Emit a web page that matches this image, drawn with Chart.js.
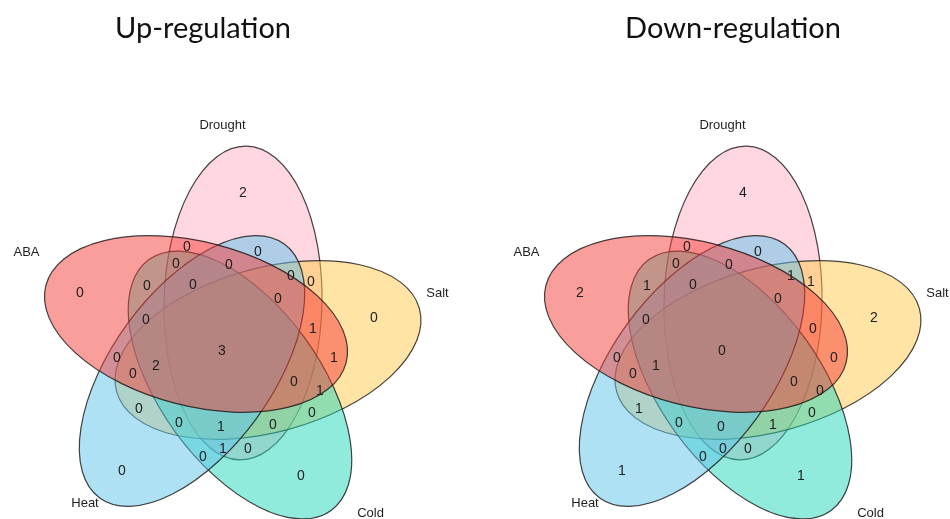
<!DOCTYPE html>
<html>
<head>
<meta charset="utf-8">
<script src="https://cdn.jsdelivr.net/npm/chart.js@4/dist/chart.umd.min.js"></script>
<style>
  html, body { margin: 0; padding: 0; background: #ffffff; }
  #wrap { width: 950px; height: 519px; }
</style>
</head>
<body>
<div id="wrap"><canvas id="venn" width="950" height="519"></canvas></div>
<script>
// ---- data ----------------------------------------------------------------
const setNames = ['Drought', 'Salt', 'Cold', 'Heat', 'ABA'];
const panelTitles = ['Up-regulation', 'Down-regulation'];
// gene counts for the 31 regions of the five-set diagram, read top to bottom
const upCounts = [2, 0, 0, 0, 0, 0, 0, 0, 0, 0, 0, 0, 0, 1, 3, 1,
                  0, 2, 0, 0, 1, 0, 0, 0, 1, 0, 1, 0, 0, 0, 0];
const downCounts = [4, 0, 0, 0, 0, 2, 1, 0, 1, 1, 0, 2, 0, 0, 0, 0,
                    0, 1, 0, 0, 0, 1, 0, 0, 0, 1, 0, 0, 0, 1, 1];
const panelCounts = [upCounts, downCounts];

// ---- style ---------------------------------------------------------------
const setColors = ['rgb(255,175,195)', 'rgb(255,201,75)', 'rgb(35,215,185)',
                   'rgb(95,195,235)', 'rgb(245,62,55)'];
const fillAlpha = 0.5;
const outline = 'rgba(25,20,20,0.8)';
const textColor = '#1e1e1e';
const countFont = '14px "Liberation Sans", Arial, sans-serif';
const labelFont = '13px "Liberation Sans", Arial, sans-serif';
const titleFamily = 'Lato, "Open Sans", sans-serif';

// ---- layout (plot units, relative to each diagram's centre) --------------
const panelOrigins = [[228, 347], [728, 347]];
// ellipse per set: centre offset, semi-major (rx), semi-minor (ry), major-axis angle in degrees
const ellipseShapes = [
  { cx: 15,  cy: -44, rx: 157, ry: 79, rot: 91.3 },
  { cx: 40,  cy: 3,   rx: 157, ry: 82, rot: -15.3 },
  { cx: 12,  cy: 38,  rx: 155, ry: 80, rot: 54 },
  { cx: -36, cy: 24,  rx: 157, ry: 80, rot: -54 },
  { cx: -32, cy: -23, rx: 155, ry: 82, rot: 14.4 }
];
// anchor of each region's count, same order as the count arrays
const regionSpots = [
  [15, -154], [-41, -100], [30, -95], [-52, -83], [1, -82],
  [-148, -54], [-81, -61], [-35, -62], [63, -71], [83, -65],
  [50, -48], [146, -29], [-82, -27], [85, -18], [-6, 4],
  [106, 11], [-111, 11], [-72, 19], [-95, 27], [66, 35],
  [92, 44], [-89, 62], [84, 66], [-49, 76], [-7, 80],
  [45, 78], [-5, 102], [20, 102], [-25, 110], [-106, 124],
  [73, 129]
];
const setLabelSpots = [[-5.5, -221.5], [209.5, -53.5], [142.5, 166], [-143, 156], [-201.5, -94.5]];
const titleSpots = [[-25, -309], [5, -309]];
const titleWidth = 176;

// ---- drawing -------------------------------------------------------------
const vennPlugin = {
  id: 'vennShapes',
  beforeDatasetsDraw(chart) {
    const { ctx, scales: { x, y } } = chart;
    const kx = x.getPixelForValue(1) - x.getPixelForValue(0);
    const ky = Math.abs(y.getPixelForValue(1) - y.getPixelForValue(0));
    panelOrigins.forEach(([ox, oy]) => {
      ellipseShapes.forEach((e, i) => {
        ctx.save();
        ctx.beginPath();
        ctx.ellipse(x.getPixelForValue(ox + e.cx), y.getPixelForValue(oy + e.cy),
                    e.rx * kx, e.ry * ky, e.rot * Math.PI / 180, 0, Math.PI * 2);
        ctx.globalAlpha = fillAlpha;
        ctx.fillStyle = setColors[i];
        ctx.fill();
        ctx.globalAlpha = 1;
        ctx.lineWidth = 1.2;
        ctx.strokeStyle = outline;
        ctx.stroke();
        ctx.restore();
      });
    });
  },
  afterDatasetsDraw(chart) {
    const { ctx, scales: { x, y } } = chart;
    ctx.save();
    ctx.fillStyle = textColor;
    ctx.textAlign = 'center';
    ctx.textBaseline = 'middle';
    // region counts sit on the (invisible) scatter points
    ctx.font = countFont;
    chart.data.datasets.forEach((ds, di) => {
      chart.getDatasetMeta(di).data.forEach((pt, i) => {
        ctx.fillText(String(ds.counts[i]), pt.x, pt.y);
      });
    });
    // set names and panel titles
    panelOrigins.forEach(([ox, oy], p) => {
      ctx.font = labelFont;
      setNames.forEach((name, i) => {
        const [lx, ly] = setLabelSpots[i];
        ctx.fillText(name, x.getPixelForValue(ox + lx), y.getPixelForValue(oy + ly));
      });
      ctx.font = '28px ' + titleFamily;
      const size = 28 * titleWidth / ctx.measureText(panelTitles[0]).width;
      ctx.font = size.toFixed(2) + 'px ' + titleFamily;
      ctx.textBaseline = 'alphabetic';
      const [tx, ty] = titleSpots[p];
      ctx.fillStyle = '#111';
      ctx.fillText(panelTitles[p], x.getPixelForValue(ox + tx), y.getPixelForValue(oy + ty));
      ctx.fillStyle = textColor;
      ctx.textBaseline = 'middle';
    });
    ctx.restore();
  }
};

const datasets = panelOrigins.map(([ox, oy], p) => ({
  label: panelTitles[p],
  counts: panelCounts[p],
  data: regionSpots.map(([rx, ry]) => ({ x: ox + rx, y: oy + ry })),
  pointRadius: 0,
  pointHoverRadius: 0
}));

new Chart(document.getElementById('venn'), {
  type: 'scatter',
  data: { datasets },
  options: {
    responsive: false,
    devicePixelRatio: 1,
    animation: false,
    events: [],
    layout: { padding: 0 },
    plugins: { legend: { display: false }, tooltip: { enabled: false }, title: { display: false } },
    scales: {
      x: { type: 'linear', min: 0, max: 950, display: false },
      y: { type: 'linear', min: 0, max: 519, reverse: true, display: false }
    }
  },
  plugins: [vennPlugin]
});
</script>
</body>
</html>
